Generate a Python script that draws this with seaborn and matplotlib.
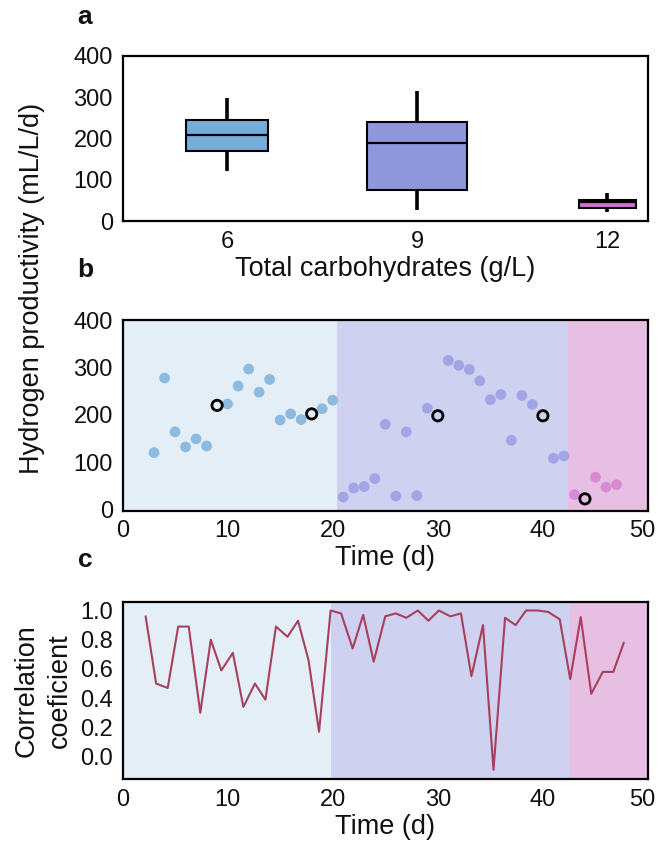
#!/usr/bin/env python3
"""Three stacked panels: H2 productivity boxplots (a), daily productivity (b), correlation coefficient (c)."""
import matplotlib
matplotlib.use("Agg")
import matplotlib.pyplot as plt
import matplotlib.transforms as mtransforms
import pandas as pd
import seaborn as sns

# --- data ---
CARBS = ["6", "9", "12"]

DAYS_6 = [3, 4, 5, 6, 7, 8, 9, 10, 11, 12, 13, 14, 15, 16, 17, 18, 19, 20]
H2_6 = [120, 278, 164, 132, 149, 134, 220, 223, 261, 297, 248, 275, 189, 202, 190, 202, 213, 231]
DAYS_9 = [21, 22, 23, 24, 25, 26, 27, 28, 29, 30, 31, 32, 33, 34, 35, 36, 37, 38, 39, 40, 41, 42]
H2_9 = [26, 45, 48, 65, 180, 28, 164, 29, 214, 198, 315, 305, 296, 272, 232, 243, 146, 241, 222, 198, 108, 113]
DAYS_12 = [43, 44, 45, 46, 47]
H2_12 = [31, 22, 68, 47, 52]
MARKED_DAYS = [9, 18, 30, 40, 44]

CORR_DAY = [2.2, 3.2, 4.3, 5.3, 6.3, 7.4, 8.4, 9.4, 10.5, 11.5, 12.6, 13.6, 14.6, 15.7, 16.7,
            17.7, 18.7, 19.8, 20.8, 21.9, 22.9, 23.9, 25.0, 26.0, 27.0, 28.1, 29.1, 30.1, 31.2,
            32.2, 33.2, 34.3, 35.3, 36.4, 37.4, 38.4, 39.5, 40.5, 41.6, 42.6, 43.6, 44.6, 45.7,
            46.7, 47.7]
CORR = [0.96, 0.50, 0.47, 0.89, 0.89, 0.30, 0.80, 0.59, 0.71, 0.34, 0.50, 0.39, 0.89, 0.82, 0.93,
        0.66, 0.17, 1.00, 0.98, 0.74, 0.97, 0.65, 0.96, 0.98, 0.95, 1.00, 0.93, 1.00, 0.96,
        0.98, 0.55, 0.90, -0.09, 0.95, 0.90, 1.00, 1.00, 0.99, 0.94, 0.53, 0.955, 0.43, 0.58,
        0.58, 0.78]

PHASES_B = [0, 20.45, 42.4, 50]
PHASES_C = [0, 19.8, 42.55, 50]

BOX_COLORS = ["#76acd8", "#8e97dc", "#cf72cc"]
POINT_COLORS = ["#8dbbdf", "#a2a5e5", "#d88bd2"]
BG_COLORS = ["#e4eef7", "#ced1ef", "#e7bfe3"]
LINE_COLOR = "#a8405c"
BOX_WIDTHS = [0.43, 0.53, 0.30]


def style_axis(ax):
    for s in ax.spines.values():
        s.set_visible(True)
        s.set_color("black")
        s.set_linewidth(1.6)
    ax.tick_params(direction="out", length=5, width=1.6, labelsize=17, pad=2,
                   colors="black", labelcolor="#111111")


def nudge_last_xlabel(ax, fig, dx_px=-6):
    # the right-most tick label sits against the figure edge in the original
    lab = ax.get_xticklabels()[-1]
    off = mtransforms.ScaledTranslation(dx_px / fig.dpi, 0, fig.dpi_scale_trans)
    lab.set_transform(lab.get_transform() + off)


def main():
    sns.set_theme(style="white")
    plt.rcParams["font.family"] = ["Liberation Sans", "DejaVu Sans"]
    plt.rcParams["text.color"] = "#111111"
    plt.rcParams["axes.labelcolor"] = "#111111"

    df = pd.DataFrame({
        "day": DAYS_6 + DAYS_9 + DAYS_12,
        "h2": H2_6 + H2_9 + H2_12,
        "carbs": ["6"] * len(DAYS_6) + ["9"] * len(DAYS_9) + ["12"] * len(DAYS_12),
    })

    fig = plt.figure(figsize=(6.59, 8.5), dpi=100)
    ax_a = fig.add_axes([0.1859, 0.7400, 0.7974, 0.1945])
    ax_b = fig.add_axes([0.1859, 0.3992, 0.7974, 0.2244])
    ax_c = fig.add_axes([0.1859, 0.0835, 0.7974, 0.2086])

    # a: boxplots, one call per group so each gets its own width
    for cat, col, w in zip(CARBS, BOX_COLORS, BOX_WIDTHS):
        sns.boxplot(data=df[df["carbs"] == cat], x="carbs", y="h2", order=CARBS,
                    color=col, saturation=1, width=w, linecolor="black", linewidth=1.5,
                    showcaps=False, fliersize=0, whiskerprops={"linewidth": 2.6},
                    medianprops={"linewidth": 1.6}, ax=ax_a)
    ax_a.set_xlim(-0.55, 2.215)
    ax_a.set_ylim(0, 400)
    ax_a.set_yticks([0, 100, 200, 300, 400])
    ax_a.set_ylabel("")
    ax_a.set_xlabel("Total carbohydrates (g/L)", fontsize=19.5, labelpad=2)
    style_axis(ax_a)

    # b: daily productivity with phase shading
    for i in range(3):
        ax_b.axvspan(PHASES_B[i], PHASES_B[i + 1], color=BG_COLORS[i], lw=0, zorder=0)
    filled = df[~df["day"].isin(MARKED_DAYS)]
    marked = df[df["day"].isin(MARKED_DAYS)]
    sns.scatterplot(data=filled, x="day", y="h2", hue="carbs", hue_order=CARBS,
                    palette=POINT_COLORS, s=60, linewidth=0, legend=False, ax=ax_b, zorder=3)
    sns.scatterplot(data=marked, x="day", y="h2", s=55, facecolor="none",
                    edgecolor="black", linewidth=2, legend=False, ax=ax_b, zorder=4)
    ax_b.set_xlim(0, 50)
    ax_b.set_ylim(-3, 401)
    ax_b.set_yticks([0, 100, 200, 300, 400])
    ax_b.set_xticks([0, 10, 20, 30, 40, 50])
    ax_b.set_ylabel("")
    ax_b.set_xlabel("Time (d)", fontsize=19.5, labelpad=2)
    style_axis(ax_b)
    nudge_last_xlabel(ax_b, fig)

    # c: correlation coefficient
    for i in range(3):
        ax_c.axvspan(PHASES_C[i], PHASES_C[i + 1], color=BG_COLORS[i], lw=0, zorder=0)
    sns.lineplot(x=CORR_DAY, y=CORR, color=LINE_COLOR, linewidth=1.5, ax=ax_c, zorder=3)
    ax_c.set_xlim(0, 50)
    ax_c.set_ylim(-0.153, 1.06)
    ax_c.set_yticks([0.0, 0.2, 0.4, 0.6, 0.8, 1.0])
    ax_c.set_yticklabels([f"{v:.1f}" for v in [0.0, 0.2, 0.4, 0.6, 0.8, 1.0]])
    ax_c.set_xticks([0, 10, 20, 30, 40, 50])
    ax_c.set_xlabel("Time (d)", fontsize=19.5, labelpad=2)
    ax_c.set_ylabel("Correlation\ncoeficient", fontsize=19.5, labelpad=5, linespacing=1.35)
    style_axis(ax_c)
    nudge_last_xlabel(ax_c, fig)

    fig.text(0.048, 1 - 288 / 850, "Hydrogen productivity (mL/L/d)", rotation=90,
             ha="center", va="center", fontsize=19.5)
    for letter, y in [("a", 17), ("b", 270), ("c", 560)]:
        fig.text(85 / 659, 1 - y / 850, letter, ha="center", va="center",
                 fontsize=19, fontweight="bold")

    fig.savefig("out.png", dpi=100)
    plt.close(fig)


if __name__ == "__main__":
    main()
